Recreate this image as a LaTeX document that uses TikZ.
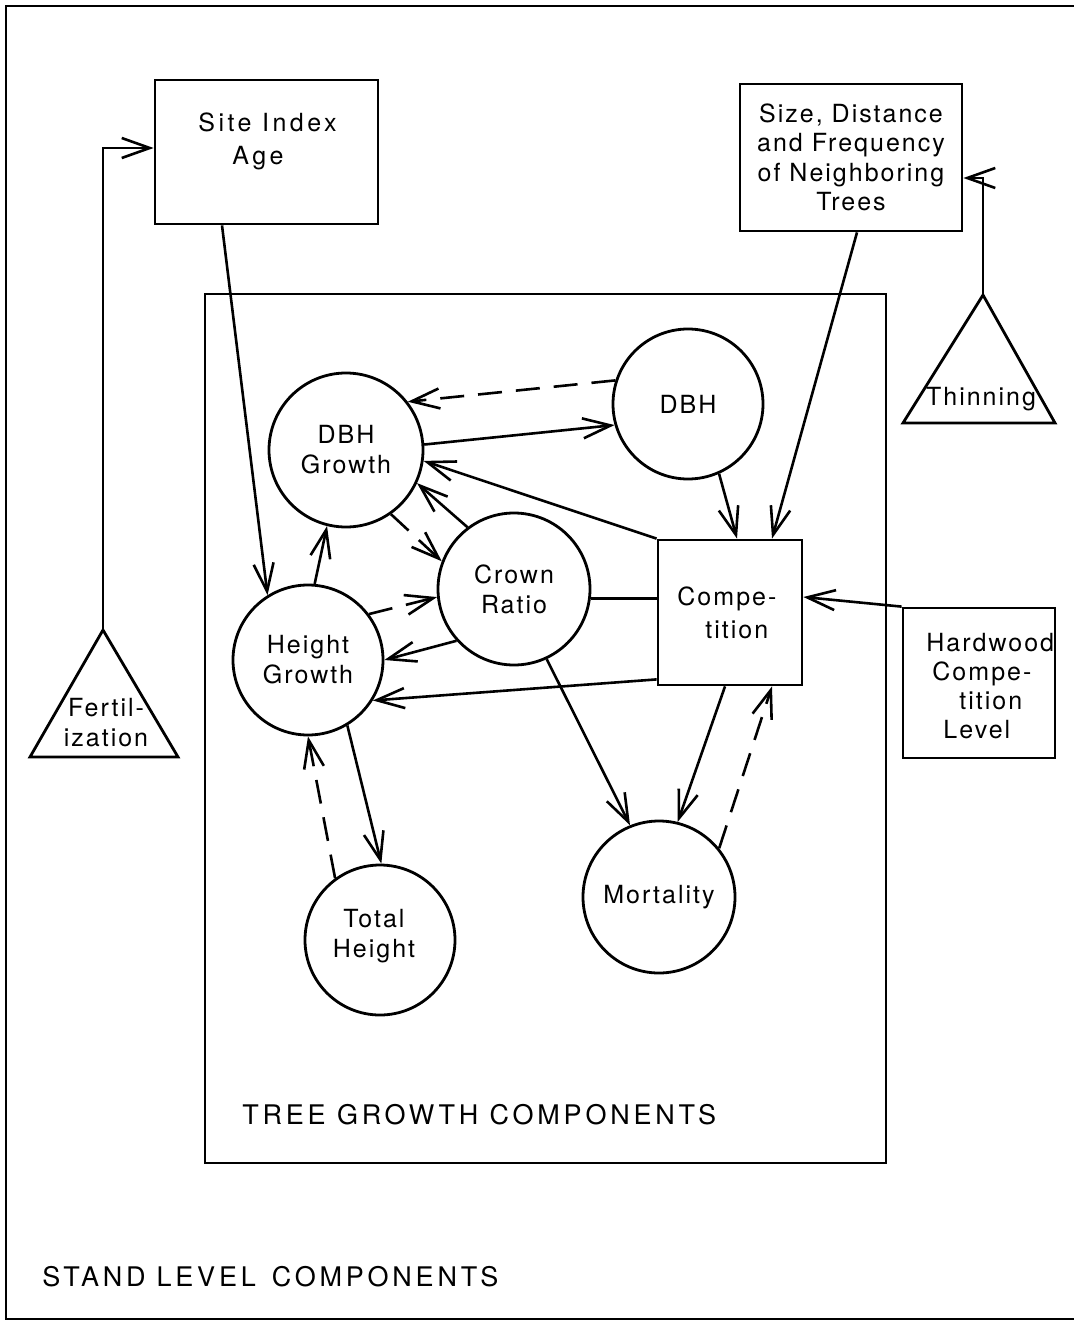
\documentclass[tikz,border=0pt]{standalone}
\usepackage{fontspec}
\setmainfont{TeX Gyre Heros}[LetterSpace=8]
\newfontfamily\widefont{TeX Gyre Heros}[LetterSpace=14]
\usetikzlibrary{arrows.meta,calc}
\begin{document}
\begin{tikzpicture}[x=0.5pt,y=-0.5pt,
  circ/.style={draw,circle,line width=1.4pt,minimum size=75pt,inner sep=0pt,align=center,font=\fontsize{12.5}{15}\selectfont},
  box/.style={draw,rectangle,line width=1.4pt,inner sep=0pt,align=center,font=\fontsize{12.5}{14.7}\selectfont},
  lbl/.style={inner sep=0pt,align=center,font=\fontsize{12.5}{15}\selectfont},
  conn/.style={line width=1.3pt,-{Straight Barb[length=14pt,width=10pt,line width=1.3pt]}},
  dsh/.style={conn,dash pattern=on 12pt off 7pt},
  plain/.style={line width=1.3pt},
  frame/.style={line width=1.4pt},
]
\useasboundingbox (0,0) rectangle (1074,1327);
% outer frame
\draw[frame] (1074,6) -- (6,6) -- (6,1319) -- (1074,1319);
% inner box
\draw[frame] (205,294) rectangle (886,1163);
\node[lbl,anchor=west,font=\widefont\fontsize{13.5}{16}\selectfont] (tgc) at (242,1115) {TREE GROWTH COMPONENTS};
\node[lbl,anchor=west,font=\widefont\fontsize{13.5}{16}\selectfont] (slc) at (42,1277) {STAND\hspace{5.5pt}LEVEL\hspace{8pt}COMPONENTS};

% boxes
\node[box,minimum width=111.5pt,minimum height=72pt] (site) at (266.5,152) {};
\node[lbl,anchor=west,align=left,font=\widefont\fontsize{12.5}{16.5}\selectfont] (sitetxt) at (198,141) {Site Index\\\hspace*{17pt}Age};
\node[box,minimum width=111pt,minimum height=73.5pt] (size) at (851,157.5) {Size, Distance\\and Frequency\\of Neighboring\\Trees};
\node[box,minimum width=72pt,minimum height=72.5pt] (comp) at (730,612.5) {};
\node[lbl,anchor=west,align=left,font=\fontsize{12.5}{16.5}\selectfont] (comptxt) at (677,613) {Compe-\\\hspace*{14pt}tition};
\node[box,minimum width=76pt,minimum height=75pt] (hard) at (979,683) {};
\node[lbl,anchor=west,align=left,font=\fontsize{12.5}{14.5}\selectfont] (hardtxt) at (926,686) {Hardwood\\\hspace*{3pt}Compe-\\\hspace*{16.5pt}tition\\\hspace*{8.5pt}Level};

% triangles
\coordinate (thA) at (983,295);
\draw[frame] (thA) -- (1055,423) -- (903,423) -- cycle;
\node[lbl] (thtxt) at (981,399) {Thinning};
\coordinate (feA) at (103,630);
\draw[frame] (feA) -- (178,757) -- (30,757) -- cycle;
\node[lbl] (fetxt) at (106,723) {Fertil-\\ization};

% circles
\node[circ,minimum size=77pt] (dbhg) at (346,450) {DBH\\Growth};
\node[circ] (dbh) at (688,404) {DBH};
\node[circ,minimum size=76pt] (cr) at (514,589) {Crown\\Ratio};
\node[circ] (hg) at (308,660) {Height\\Growth};
\node[circ] (th) at (380,940) {};
\node[lbl] (thtxt2) at (374,936) {Total\\Height};
\node[circ,minimum size=76pt] (mort) at (659,897) {Mortality};

% connectors
\draw[conn] ([xshift=-22.25pt]site.south) -- (hg.122);
\draw[conn] ([xshift=3pt]size.south) -- ([xshift=21pt]comp.north);
\draw[conn] (thA) |- ([yshift=-10.25pt]size.east);
\draw[conn] (feA) |- ([yshift=2pt]site.west);
\draw[dsh] (dbh.162) -- (dbhg.38);
\draw[conn] (dbhg.4) -- (dbh.196);
\draw[conn] (dbh.294) -- ([xshift=3.5pt]comp.north);
\draw[conn] (comp.north west) -- (dbhg.352);
\draw[conn] (cr.127) -- (dbhg.335);
\draw[dsh] (dbhg.305) -- (cr.159);
\draw[conn] (hg.85) -- (dbhg.256);
\draw[dsh] (hg.37) -- (cr.186);
\draw[conn] (cr.222) -- (hg.0);
\draw[plain] (cr.353) -- (cr.353 -| comp.west);
\draw[conn] ([yshift=3.5pt]comp.south west) -- (hg.328);
\draw[conn] (cr.295) -- (mort.112);
\draw[conn] ([xshift=-2.5pt]comp.south) -- (mort.76);
\draw[dsh] (mort.39) -- ([xshift=21pt]comp.south);
\draw[conn] (hg.301) -- (th.89);
\draw[dsh] (th.126) -- (hg.270);
\draw[conn] (hard.north west) -- ([yshift=7.75pt]comp.east);
\end{tikzpicture}
\end{document}
